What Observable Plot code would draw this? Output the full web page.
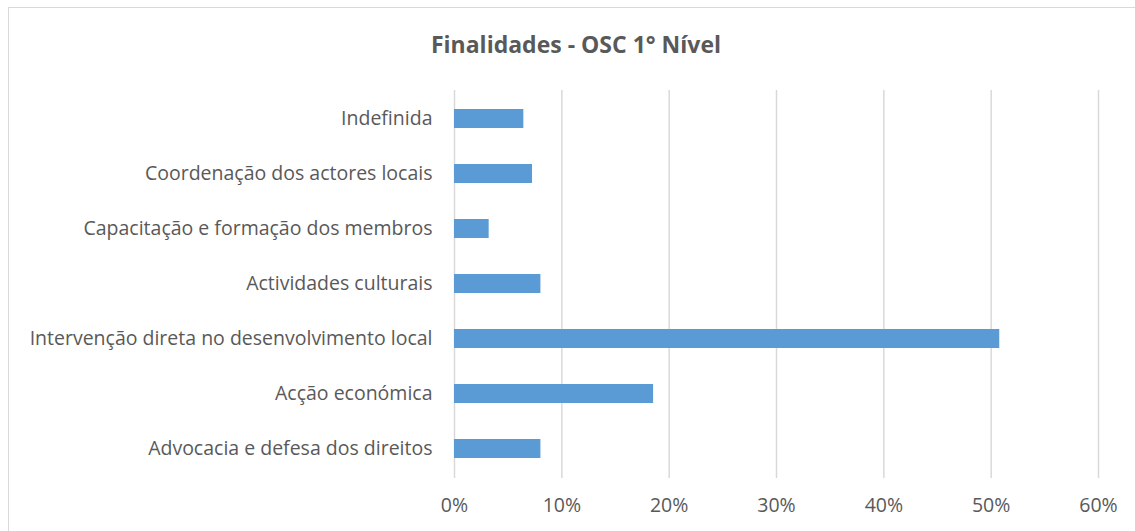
<!DOCTYPE html>
<html>
<head>
<meta charset="utf-8">
<script src="https://cdn.jsdelivr.net/npm/d3@7"></script>
<script src="https://cdn.jsdelivr.net/npm/@observablehq/plot@0.6"></script>
<style>
  html, body { margin: 0; padding: 0; background: #fff; }
  #wrap { position: relative; width: 1135px; height: 531px; overflow: hidden; font-family: "Open Sans", Lato, sans-serif; }
  #frame { position: absolute; left: 8px; top: 7px; width: 1200px; height: 600px; border-left: 1px solid #d9d9d9; border-top: 1px solid #d9d9d9; }
  #title { position: absolute; left: 0; width: 1152px; top: 27px; line-height: 34px; text-align: center; font-size: 23px; font-weight: bold; color: #595959; }
  #chart { position: absolute; left: 0; top: 0; }
</style>
</head>
<body>
<div id="wrap">
  <div id="frame"></div>
  <div id="chart"></div>
  <div id="title">Finalidades - OSC 1° Nível</div>
</div>
<script>
const categories = [
  "Indefinida",
  "Coordenação dos actores locais",
  "Capacitação e formação dos membros",
  "Actividades culturais",
  "Intervenção direta no desenvolvimento local",
  "Acção económica",
  "Advocacia e defesa dos direitos"
];
const values = [0.0646, 0.0727, 0.0323, 0.0805, 0.508, 0.1855, 0.0805];
const xTicks = [0, 0.1, 0.2, 0.3, 0.4, 0.5, 0.6];

const data = categories.map((c, i) => ({category: c, value: values[i]}));
const pct = d => Math.round(d * 100) + "%";

const chart = Plot.plot({
  width: 1135,
  height: 531,
  marginTop: 90,
  marginBottom: 53,
  marginLeft: 454,
  marginRight: 37,
  style: {fontFamily: "'Open Sans', Lato, sans-serif", fontSize: "19.5px", color: "#595959", background: "transparent"},
  x: {domain: [0, 0.6], ticks: xTicks, tickFormat: pct, label: null},
  y: {domain: categories, paddingInner: 0.65, paddingOuter: 0.325, label: null},
  marks: [
    Plot.gridX(xTicks, {stroke: "#d9d9d9", strokeOpacity: 1, strokeWidth: 1.5}),
    Plot.barX(data, {x: "value", y: "category", fill: "#5b9bd5"}),
    Plot.axisX({ticks: xTicks, tickSize: 0, tickPadding: 20, tickFormat: pct, fill: "#595959", fontSize: 19.5, label: null}),
    Plot.axisY({tickSize: 0, tickPadding: 22, fill: "#595959", fontSize: 19.5, label: null})
  ]
});
document.getElementById("chart").appendChild(chart);
</script>
</body>
</html>
